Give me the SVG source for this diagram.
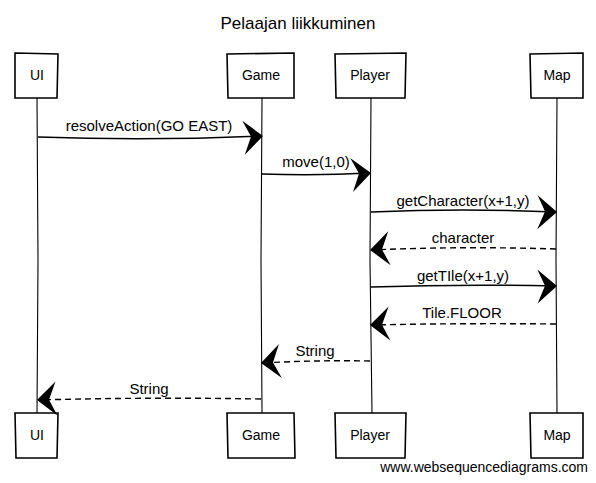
<svg xmlns="http://www.w3.org/2000/svg" width="596" height="483" viewBox="0 0 596 483">
<style>
.box{fill:#fff;stroke:#000;stroke-width:1.6}
.life{fill:none;stroke:#000;stroke-width:1.1}
.msg{fill:none;stroke:#000;stroke-width:1.4;marker-end:url(#ah)}
.ret{fill:none;stroke:#000;stroke-width:1.4;stroke-dasharray:6 4;marker-end:url(#ah)}
.lbl{font-family:"Liberation Sans",Arial,sans-serif;font-size:15px;fill:#000;text-anchor:middle}
.nm{font-family:"Liberation Sans",Arial,sans-serif;font-size:14px;fill:#000;text-anchor:middle}
.title{font-family:"Liberation Sans",Arial,sans-serif;font-size:17px;fill:#000;text-anchor:middle}
.wm{font-family:"Liberation Sans",Arial,sans-serif;font-size:14px;fill:#000;text-anchor:end}
</style>
<defs>
<marker id="ah" markerUnits="userSpaceOnUse" viewBox="-25 -20 27 40" refX="0" refY="0" markerWidth="27" markerHeight="40" orient="auto" overflow="visible">
<path d="M1,0 L-19,-16 L-11,0 L-18,18 Z" fill="#000"/>
</marker>
</defs>
<rect width="596" height="483" fill="#fff"/>
<text class="title" x="298" y="29">Pelaajan liikkuminen</text>
<g id="lifelines">
<path class="life" d="M37,98 L38,260 L37,413"/>
<path class="life" d="M262,98 L261,260 L262,413"/>
<path class="life" d="M371,98 L370,260 L372,413"/>
<path class="life" d="M557,98 L556,260 L557,413"/>
</g>
<g id="UI">
<path class="box" d="M15,53 L58,54 L57,98 L15,98 Z"/>
<text class="nm" x="37" y="80">UI</text>
<path class="box" d="M15,413 L58,413 L57,458 L16,458 Z"/>
<text class="nm" x="37" y="440">UI</text>
</g>
<g id="Game">
<path class="box" d="M227,54 L294,53 L294,98 L228,98 Z"/>
<text class="nm" x="261" y="80">Game</text>
<path class="box" d="M227,413 L294,413 L295,458 L228,458 Z"/>
<text class="nm" x="261" y="440">Game</text>
</g>
<g id="Player">
<path class="box" d="M335,54 L406,53 L405,98 L336,98 Z"/>
<text class="nm" x="370" y="80">Player</text>
<path class="box" d="M335,413 L406,413 L405,458 L336,458 Z"/>
<text class="nm" x="370" y="440">Player</text>
</g>
<g id="Map">
<path class="box" d="M530,54 L583,53 L583,98 L531,98 Z"/>
<text class="nm" x="557" y="80">Map</text>
<path class="box" d="M530,413 L583,413 L583,458 L531,458 Z"/>
<text class="nm" x="557" y="440">Map</text>
</g>
<g id="connectors">
<path class="msg" d="M38,137 Q150,141 262,136"/>
<text class="lbl" x="149" y="131">resolveAction(GO EAST)</text>
<path class="msg" d="M262,174 Q316,176 370,173"/>
<text class="lbl" x="316" y="167">move(1,0)</text>
<path class="msg" d="M371,212 Q463,208 556,212"/>
<text class="lbl" x="463" y="206">getCharacter(x+1,y)</text>
<path class="ret" d="M556,249 Q463,246 371,250"/>
<text class="lbl" x="463" y="243">character</text>
<path class="msg" d="M371,287 Q463,284 556,286"/>
<text class="lbl" x="463" y="281">getTIle(x+1,y)</text>
<path class="ret" d="M556,324 Q463,323 371,325"/>
<text class="lbl" x="462" y="318">Tile.FLOOR</text>
<path class="ret" d="M370,361 Q316,360 262,363"/>
<text class="lbl" x="315" y="356">String</text>
<path class="ret" d="M261,399 Q150,397 38,400"/>
<text class="lbl" x="149" y="394">String</text>
</g>
<text class="wm" x="588" y="472">www.websequencediagrams.com</text>
</svg>
